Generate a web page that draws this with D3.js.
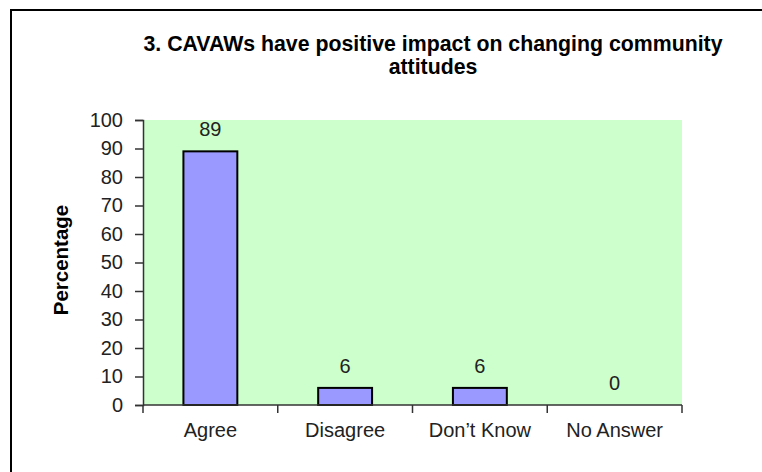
<!DOCTYPE html>
<html>
<head>
<meta charset="utf-8">
<script src="https://cdn.jsdelivr.net/npm/d3@7"></script>
<style>
  html, body { margin: 0; padding: 0; background: #fff; }
  svg { display: block; font-family: Arial, "Liberation Sans", sans-serif; }
</style>
</head>
<body>
<div id="chart"></div>
<script>
const categories = ["Agree", "Disagree", "Don\u2019t Know", "No Answer"];
const values = [89, 6, 6, 0];
const yTicks = [0, 10, 20, 30, 40, 50, 60, 70, 80, 90, 100];
const titleLines = ["3. CAVAWs have positive impact on changing community", "attitudes"];
const yTitle = "Percentage";

const W = 762, H = 472;
const plot = { left: 143, right: 682, top: 120, bottom: 405 };

const svg = d3.select("#chart").append("svg")
  .attr("width", W).attr("height", H);

// outer frame (right/bottom lie outside the picture)
svg.append("rect")
  .attr("x", 11).attr("y", 10)
  .attr("width", 770).attr("height", 480)
  .attr("fill", "#fff").attr("stroke", "#000").attr("stroke-width", 2);

const x = d3.scaleBand()
  .domain(categories)
  .range([plot.left, plot.right])
  .paddingInner(0.6)
  .paddingOuter(0.3);

const y = d3.scaleLinear()
  .domain([0, 100])
  .range([plot.bottom, plot.top]);

// plot background
svg.append("rect")
  .attr("x", plot.left).attr("y", plot.top)
  .attr("width", plot.right - plot.left)
  .attr("height", plot.bottom - plot.top)
  .attr("fill", "#CCFFCC");

// bars
svg.append("g").selectAll("rect")
  .data(categories)
  .join("rect")
  .attr("x", d => x(d))
  .attr("y", (d, i) => y(values[i]))
  .attr("width", x.bandwidth())
  .attr("height", (d, i) => y(0) - y(values[i]))
  .attr("fill", "#9999FF")
  .attr("stroke", "#000")
  .attr("stroke-width", 2)
  .attr("display", (d, i) => values[i] > 0 ? null : "none");

// data labels
svg.append("g").selectAll("text")
  .data(categories)
  .join("text")
  .attr("x", d => x(d) + x.bandwidth() / 2)
  .attr("y", (d, i) => y(values[i]) - 15)
  .attr("text-anchor", "middle")
  .attr("font-size", 20)
  .attr("fill", "#222")
  .text((d, i) => values[i]);

// y axis
const yAxis = d3.axisLeft(y).tickValues(yTicks).tickSize(8).tickPadding(12);
const gy = svg.append("g")
  .attr("transform", `translate(${plot.left},0)`)
  .call(yAxis);
gy.select(".domain").attr("stroke", "#333").attr("stroke-width", 1.5);
gy.selectAll(".tick line").attr("stroke", "#333").attr("stroke-width", 1.5);
gy.selectAll(".tick text")
  .attr("font-size", 20)
  .attr("font-family", "Arial, 'Liberation Sans', sans-serif")
  .attr("fill", "#222");

// x axis (ticks at category boundaries)
const step = x.step();
const boundaries = categories.map(c => x(c) + x.bandwidth() / 2 - step / 2);
boundaries.push(x(categories[categories.length - 1]) + x.bandwidth() / 2 + step / 2);

const gx = svg.append("g");
gx.append("line")
  .attr("x1", plot.left).attr("x2", plot.right)
  .attr("y1", plot.bottom).attr("y2", plot.bottom)
  .attr("stroke", "#333").attr("stroke-width", 1.5);
gx.selectAll("line.tick")
  .data(boundaries)
  .join("line")
  .attr("class", "tick")
  .attr("x1", d => d).attr("x2", d => d)
  .attr("y1", plot.bottom).attr("y2", plot.bottom + 8)
  .attr("stroke", "#333").attr("stroke-width", 1.5);
gx.selectAll("text")
  .data(categories)
  .join("text")
  .attr("x", d => x(d) + x.bandwidth() / 2)
  .attr("y", 437)
  .attr("text-anchor", "middle")
  .attr("font-size", 20)
  .attr("fill", "#222")
  .text(d => d);

// y title
svg.append("text")
  .attr("transform", `translate(68,260) rotate(-90)`)
  .attr("text-anchor", "middle")
  .attr("font-size", 20.5)
  .attr("font-weight", "bold")
  .attr("fill", "#000")
  .text(yTitle);

// chart title
svg.append("g").selectAll("text")
  .data(titleLines)
  .join("text")
  .attr("x", 433)
  .attr("y", (d, i) => 51 + i * 23)
  .attr("text-anchor", "middle")
  .attr("font-size", 21.3)
  .attr("font-weight", "bold")
  .attr("fill", "#000")
  .text(d => d);
</script>
</body>
</html>
